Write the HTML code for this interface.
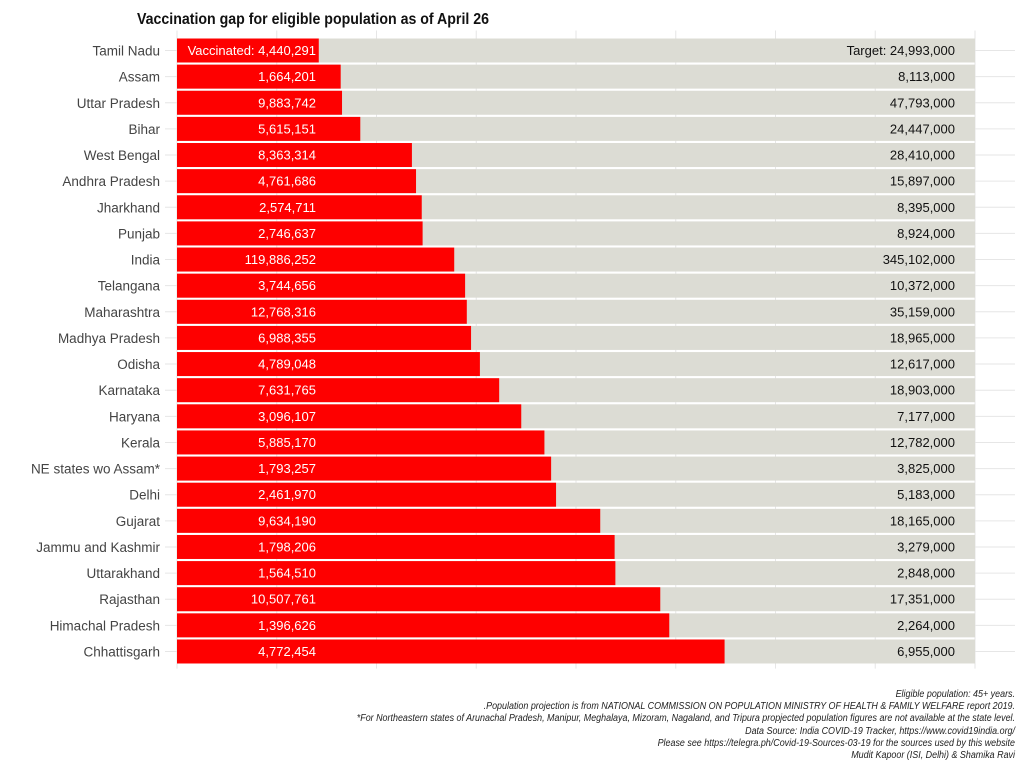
<!DOCTYPE html>
<html><head><meta charset="utf-8">
<style>
html,body{margin:0;padding:0;background:#fff;}
svg{display:block;font-family:"Liberation Sans",Arial,sans-serif;}
</style></head>
<body>
<svg id="chart" width="1025" height="769" viewBox="0 0 1025 769" xmlns="http://www.w3.org/2000/svg">
<text x="137" y="24" font-size="16" font-weight="bold" fill="#111" textLength="352" lengthAdjust="spacingAndGlyphs">Vaccination gap for eligible population as of April 26</text>
<g id="grid"></g>
<g id="bars"></g>
<g font-size="10" font-style="italic" fill="#222" text-anchor="end" transform="translate(1015,0) scale(0.895,1) translate(-1015,0)">
<text x="1015" y="697">Eligible population: 45+ years.</text>
<text x="1015" y="709">.Population projection is from NATIONAL COMMISSION ON POPULATION MINISTRY OF HEALTH &amp; FAMILY WELFARE report 2019.</text>
<text x="1015" y="721">*For Northeastern states of Arunachal Pradesh, Manipur, Meghalaya, Mizoram, Nagaland, and Tripura propjected population figures are not available at the state level.</text>
<text x="1015" y="734">Data Source: India COVID-19 Tracker, https://www.covid19india.org/</text>
<text x="1015" y="746">Please see https://telegra.ph/Covid-19-Sources-03-19 for the sources used by this website</text>
<text x="1015" y="758">Mudit Kapoor (ISI, Delhi) &amp; Shamika Ravi</text>
</g>
</svg>
<script>
const states = ["Tamil Nadu","Assam","Uttar Pradesh","Bihar","West Bengal","Andhra Pradesh","Jharkhand","Punjab","India","Telangana","Maharashtra","Madhya Pradesh","Odisha","Karnataka","Haryana","Kerala","NE states wo Assam*","Delhi","Gujarat","Jammu and Kashmir","Uttarakhand","Rajasthan","Himachal Pradesh","Chhattisgarh"];
const vaccinated = [4440291,1664201,9883742,5615151,8363314,4761686,2574711,2746637,119886252,3744656,12768316,6988355,4789048,7631765,3096107,5885170,1793257,2461970,9634190,1798206,1564510,10507761,1396626,4772454];
const targets = [24993000,8113000,47793000,24447000,28410000,15897000,8395000,8924000,345102000,10372000,35159000,18965000,12617000,18903000,7177000,12782000,3825000,5183000,18165000,3279000,2848000,17351000,2264000,6955000];
const gridTicks = [0,0.125,0.25,0.375,0.5,0.625,0.75,0.875,1];

(function(){
const NS="http://www.w3.org/2000/svg";
const x0=177, x1=975, topY=38.5, pitch=26.13, barH=24;
const xs = v => x0 + v*(x1-x0);
const ys = i => topY + i*pitch;
const fmt = n => n.toLocaleString("en-US");
function mk(tag, attrs, parent){const e=document.createElementNS(NS,tag);for(const k in attrs)e.setAttribute(k,attrs[k]);parent.appendChild(e);return e;}
const grid=document.getElementById("grid"), bars=document.getElementById("bars");
const bottomY = ys(states.length)+3;
gridTicks.forEach(t=>{
  const l=mk("line",{x1:xs(t),x2:xs(t),y1:topY-8,y2:bottomY,stroke:"#e6e6e6","stroke-width":1},grid);
  
  
});
states.forEach((s,i)=>{
  const cy = ys(i)+barH/2;
  const rl=mk("line",{x1:165,x2:1015,y1:cy,y2:cy,stroke:"#e6e6e6","stroke-width":1},grid);
  
  
  const g=mk("g",{},bars);
  
  
  mk("rect",{x:x0,y:ys(i),width:x1-x0,height:barH,fill:"#dcdcd4"},g);
  mk("rect",{x:x0,y:ys(i),width:xs(vaccinated[i]/targets[i])-x0,height:barH,fill:"#fe0000"},g);
  const lab=mk("text",{x:160,y:cy+5,"font-size":13.5,"text-anchor":"end",fill:"#444"},bars);
  lab.textContent=s;
  
  
  const vt=mk("text",{x:316,y:cy+4.5,"font-size":13,"text-anchor":"end",fill:"#fff"},g);
  vt.textContent=(i===0?"Vaccinated: ":"")+fmt(vaccinated[i]);
  
  
  const tt=mk("text",{x:955,y:cy+4.5,"font-size":13,"text-anchor":"end",fill:"#111"},g);
  tt.textContent=(i===0?"Target: ":"")+fmt(targets[i]);
  
  
});
})();
</script>
</body></html>
